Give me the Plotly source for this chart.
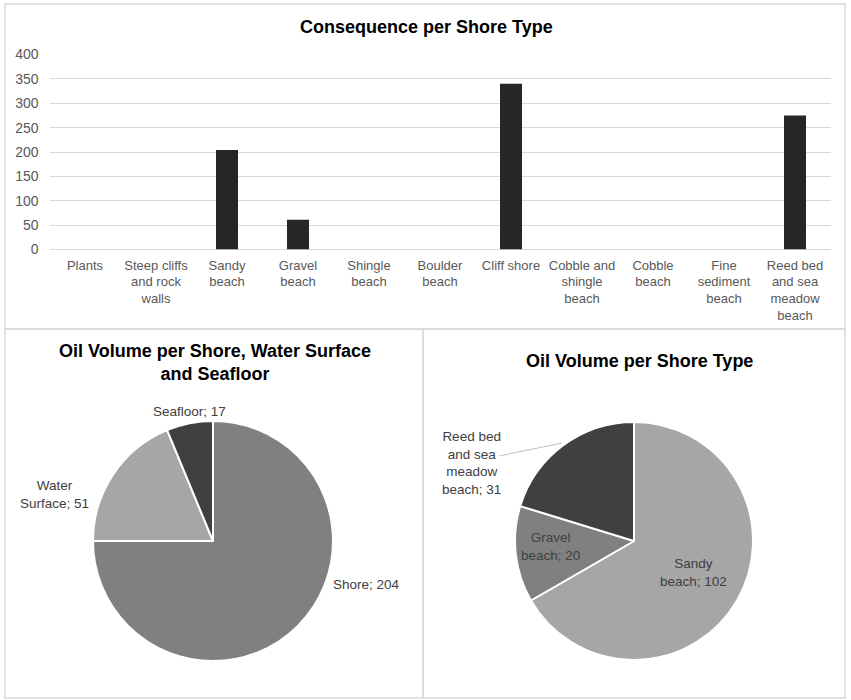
import plotly.graph_objects as go

# ---------------- data ----------------
shore_types = ["Plants", "Steep cliffs<br>and rock<br>walls", "Sandy<br>beach", "Gravel<br>beach",
               "Shingle<br>beach", "Boulder<br>beach", "Cliff shore", "Cobble and<br>shingle<br>beach",
               "Cobble<br>beach", "Fine<br>sediment<br>beach", "Reed bed<br>and sea<br>meadow<br>beach"]
consequence = [0, 0, 204, 61, 0, 0, 340, 0, 0, 0, 275]
y_ticks = [0, 50, 100, 150, 200, 250, 300, 350, 400]

area_labels = ["Shore", "Water Surface", "Seafloor"]
area_label_text = ["Shore; ", "Water<br>Surface; ", "Seafloor; "]
area_values = [204, 51, 17]
area_colors = ["#808080", "#a6a6a6", "#404040"]

type_labels = ["Sandy beach", "Gravel beach", "Reed bed and sea meadow beach"]
type_label_text = ["Sandy<br>beach; ", "Gravel<br>beach; ", "Reed bed<br>and sea<br>meadow<br>beach; "]
type_values = [102, 20, 31]
type_colors = ["#a6a6a6", "#808080", "#404040"]

W, H = 851, 700
FONT = "Liberation Sans, Arial, sans-serif"


def px(x):
    return x / W


def py(y):
    return 1 - y / H


fig = go.Figure()

# ---------------- bar chart ----------------
fig.add_trace(go.Bar(
    x=shore_types, y=consequence,
    marker=dict(color="#262626", line=dict(width=0)),
    xaxis="x", yaxis="y", showlegend=False, hoverinfo="x+y",
))

# ---------------- pies ----------------
fig.add_trace(go.Pie(
    labels=area_labels, values=area_values, sort=False, direction="clockwise", rotation=0,
    marker=dict(colors=area_colors, line=dict(color="white", width=2)),
    textinfo="none", showlegend=False,
    domain=dict(x=[px(93), px(333)], y=[py(661), py(421)]),
))
fig.add_trace(go.Pie(
    labels=type_labels, values=type_values, sort=False, direction="clockwise", rotation=0,
    marker=dict(colors=type_colors, line=dict(color="white", width=2)),
    textinfo="none", showlegend=False,
    domain=dict(x=[px(515), px(753)], y=[py(660), py(422)]),
))

annotations = []


def ann(text, x, y, size, color):
    annotations.append(dict(text=text, x=px(x), y=py(y), xref="paper", yref="paper", showarrow=False,
                            xanchor="center", yanchor="middle", align="center",
                            font=dict(size=size, color=color, family=FONT)))


# titles
ann("<b>Consequence per Shore Type</b>", 426, 27, 18, "#000000")
ann("<b>Oil Volume per Shore, Water Surface<br>and Seafloor</b>", 215, 362, 18, "#000000")
ann("<b>Oil Volume per Shore Type</b>", 639, 361, 18, "#000000")

# pie labels
left_pos = [(366, 584), (55, 494), (189, 412)]
for t, v, (x, y) in zip(area_label_text, area_values, left_pos):
    ann(f"{t}{v}", x, y, 13.5, "#404040")
right_pos = [(693, 572), (550, 546), (471, 463)]
for t, v, (x, y) in zip(type_label_text, type_values, right_pos):
    ann(f"{t}{v}", x, y, 13.5, "#404040")

shapes = []
border = dict(color="#d9d9d9", width=1.5)
# panel borders
shapes.append(dict(type="rect", xref="paper", yref="paper", x0=px(5), x1=px(845), y0=py(329), y1=py(4),
                   line=border))
shapes.append(dict(type="rect", xref="paper", yref="paper", x0=px(5), x1=px(423), y0=py(698), y1=py(329),
                   line=border))
shapes.append(dict(type="rect", xref="paper", yref="paper", x0=px(423), x1=px(845), y0=py(698), y1=py(329),
                   line=border))
# leader line for reed bed label
shapes.append(dict(type="line", xref="paper", yref="paper", x0=px(499), y0=py(456), x1=px(562), y1=py(443),
                   line=dict(color="#bfbfbf", width=1)))

fig.update_layout(
    width=W, height=H, autosize=False, margin=dict(l=0, r=0, t=0, b=0, pad=0, autoexpand=False),
    paper_bgcolor="white", plot_bgcolor="white",
    font=dict(family=FONT, size=13, color="#595959"),
    bargap=0.69,
    xaxis=dict(domain=[px(49.5), px(830.5)], anchor="y", type="category", showgrid=False, showline=False,
               automargin=False, ticklabelstandoff=6,
               ticks="", tickfont=dict(size=13, color="#595959"), tickangle=0, fixedrange=True),
    yaxis=dict(domain=[py(249.5), py(54.5)], anchor="x", range=[0, 400], tickvals=y_ticks,
               automargin=False,
               gridcolor="#d9d9d9", gridwidth=1, zeroline=True, zerolinecolor="#d9d9d9", zerolinewidth=1,
               showline=False, ticks="", ticklabelstandoff=10, tickfont=dict(size=14, color="#595959"),
               fixedrange=True),
    annotations=annotations, shapes=shapes,
)

fig.write_html("out.html", config={"displayModeBar": False, "responsive": False})

with open("out.html", "r", encoding="utf-8") as f:
    html = f.read()
css = ("<style>html,body{margin:0;padding:0;overflow:hidden;width:851px;height:700px;}"
       ".plotly-graph-div{position:absolute!important;top:0;left:0;width:851px!important;"
       "height:700px!important;}</style>")
html = html.replace("<head>", "<head>" + css, 1)
with open("out.html", "w", encoding="utf-8") as f:
    f.write(html)
